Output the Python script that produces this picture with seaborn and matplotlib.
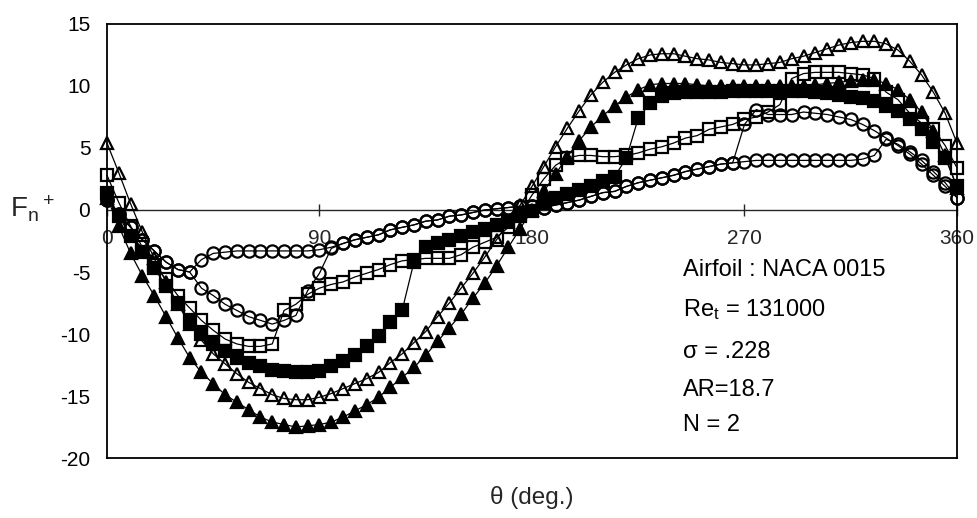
import numpy as np
import pandas as pd
import matplotlib
matplotlib.use("Agg")
import matplotlib.pyplot as plt
import seaborn as sns

# Azimuthal position of the blade, degrees
theta = np.arange(0, 361, 5)

# Normal force coefficient F_n+ for each run
circle_a = [0.8, -0.3, -1.4, -2.4, -3.3, -4.2, -4.8, -5.0, -4.0, -3.5,
            -3.4, -3.3, -3.3, -3.3, -3.3, -3.3, -3.3, -3.3, -3.2, -3.0,
            -2.7, -2.4, -2.2, -2.0, -1.6, -1.4, -1.2, -0.9, -0.8, -0.5,
            -0.4, -0.2, 0.0, 0.1, 0.2, 0.3, 0.3, 0.2, 0.4, 0.6,
            0.8, 1.1, 1.4, 1.5, 1.9, 2.2, 2.4, 2.6, 2.8, 3.1,
            3.3, 3.5, 3.7, 3.8, 3.9, 4.0, 4.0, 4.0, 4.0, 4.0,
            4.0, 4.0, 4.0, 4.0, 4.1, 4.4, 5.7, 5.3, 4.7, 4.0,
            3.1, 2.2, 1.0]
circle_b = [0.8, -0.3, -1.4, -2.4, -3.3, -4.2, -4.8, -5.0, -6.3, -6.9,
            -7.6, -8.1, -8.6, -8.9, -9.2, -8.9, -8.5, -6.5, -5.1, -3.1,
            -2.7, -2.4, -2.2, -2.0, -1.6, -1.4, -1.2, -0.9, -0.8, -0.5,
            -0.4, -0.2, 0.0, 0.1, 0.2, 0.3, 0.3, 0.2, 0.4, 0.6,
            0.8, 1.1, 1.4, 1.5, 1.9, 2.2, 2.4, 2.6, 2.8, 3.1,
            3.3, 3.5, 3.7, 3.8, 6.9, 8.1, 7.7, 7.7, 7.7, 7.9,
            7.8, 7.7, 7.5, 7.3, 6.9, 6.4, 5.8, 5.2, 4.5, 3.7,
            2.8, 1.9, 1.0]
square_open = [2.8, 0.6, -1.3, -3.0, -4.4, -5.6, -6.9, -7.9, -8.9, -9.7,
               -10.4, -10.8, -11.0, -11.0, -10.8, -8.1, -7.6, -6.8, -6.3, -6.0,
               -5.8, -5.4, -5.1, -4.8, -4.4, -4.1, -4.0, -3.9, -3.9, -3.9,
               -3.6, -3.0, -2.6, -2.2, -1.4, -0.3, 1.2, 2.5, 3.6, 4.2,
               4.4, 4.4, 4.3, 4.3, 4.4, 4.6, 4.9, 5.1, 5.4, 5.8,
               6.0, 6.5, 6.7, 6.9, 7.3, 7.5, 7.9, 8.5, 10.6, 11.0,
               11.1, 11.1, 11.1, 11.0, 10.9, 10.6, 9.5, 8.9, 7.8, 7.0,
               6.5, 5.2, 3.4]
square_filled = [1.4, -0.5, -2.1, -3.4, -4.7, -6.1, -7.5, -9.0, -10.0, -10.8,
                 -11.4, -11.9, -12.3, -12.6, -12.9, -13.0, -13.1, -13.1, -13.0, -12.6,
                 -12.2, -11.7, -11.0, -10.2, -9.0, -8.1, -4.2, -3.0, -2.7, -2.4,
                 -2.1, -1.8, -1.5, -1.2, -0.9, -0.5, -0.1, 0.6, 1.0, 1.3,
                 1.6, 1.9, 2.3, 2.7, 4.2, 7.4, 8.6, 9.2, 9.4, 9.5,
                 9.5, 9.5, 9.5, 9.6, 9.6, 9.6, 9.6, 9.6, 9.6, 9.6,
                 9.5, 9.4, 9.3, 9.1, 9.0, 8.8, 8.4, 8.0, 7.3, 6.5,
                 5.5, 4.2, 1.9]
triangle_open = [5.4, 3.0, 0.5, -1.8, -3.9, -5.8, -7.6, -9.2, -10.5, -11.6,
                 -12.4, -13.2, -13.9, -14.4, -14.9, -15.2, -15.3, -15.3, -15.1, -14.8,
                 -14.4, -14.0, -13.6, -13.1, -12.3, -11.6, -10.7, -9.8, -8.6, -7.5,
                 -6.3, -5.1, -3.8, -2.4, -1.0, 0.4, 1.9, 3.5, 5.1, 6.6,
                 8.0, 9.3, 10.3, 11.1, 11.7, 12.2, 12.5, 12.6, 12.6, 12.4,
                 12.2, 12.1, 11.9, 11.8, 11.7, 11.7, 11.8, 11.9, 12.2, 12.4,
                 12.7, 13.0, 13.3, 13.5, 13.6, 13.6, 13.4, 12.9, 12.0, 10.9,
                 9.5, 7.8, 5.4]
triangle_filled = [1.0, -1.3, -3.5, -5.3, -6.9, -8.6, -10.3, -11.9, -13.1, -14.0,
                   -14.9, -15.5, -16.1, -16.7, -17.1, -17.3, -17.5, -17.4, -17.3, -17.1,
                   -16.7, -16.2, -15.7, -15.1, -14.3, -13.5, -12.7, -11.7, -10.6, -9.5,
                   -8.4, -7.1, -5.9, -4.5, -3.0, -1.5, 0.0, 1.5, 2.9, 4.3,
                   5.6, 6.7, 7.6, 8.4, 9.1, 9.7, 10.1, 10.2, 10.2, 10.2,
                   10.1, 10.0, 10.0, 10.0, 10.0, 10.0, 10.0, 10.0, 10.0, 10.0,
                   10.1, 10.2, 10.3, 10.4, 10.5, 10.5, 10.2, 9.7, 8.9, 7.9,
                   6.4, 4.4, 1.8]

series_names = ["circle_a", "circle_b", "square_open", "square_filled",
                "triangle_open", "triangle_filled"]
series_values = [circle_a, circle_b, square_open, square_filled,
                 triangle_open, triangle_filled]

y_ticks = [-20, -15, -10, -5, 0, 5, 10, 15]
x_ticks = [0, 90, 180, 270, 360]
info_lines = ["Airfoil : NACA 0015", "Re$_t$ = 131000", "\u03c3 = .228",
              "AR=18.7", "N = 2"]

df = pd.concat(
    [pd.DataFrame({"theta": theta, "Fn": vals, "run": name})
     for name, vals in zip(series_names, series_values)],
    ignore_index=True,
)

sns.set_style("white")
plt.rcParams["font.family"] = ["Liberation Sans", "DejaVu Sans"]
plt.rcParams["mathtext.default"] = "regular"
plt.rcParams["axes.unicode_minus"] = False

styles = {
    "circle_a": dict(marker="o", markerfacecolor="none"),
    "circle_b": dict(marker="o", markerfacecolor="none"),
    "square_open": dict(marker="s", markerfacecolor="none"),
    "square_filled": dict(marker="s", markerfacecolor="black"),
    "triangle_open": dict(marker="^", markerfacecolor="none"),
    "triangle_filled": dict(marker="^", markerfacecolor="black"),
}

fig = plt.figure(figsize=(9.78, 5.18), dpi=100)
ax = fig.add_axes([0.1094, 0.1158, 0.8691, 0.8379])

for name in series_names:
    sns.lineplot(
        data=df[df["run"] == name], x="theta", y="Fn", ax=ax,
        color="black", linewidth=0.9, markersize=8.8,
        markeredgecolor="black", markeredgewidth=1.6,
        estimator=None, clip_on=False, **styles[name],
    )

ax.set_xlim(0, 360)
ax.set_ylim(-20, 15)
ax.set_xticks([])
ax.set_yticks(y_ticks)
ax.tick_params(axis="y", direction="inout", length=8, width=1,
               labelsize=15, pad=8, color="black", labelcolor="black")
for sp in ax.spines.values():
    sp.set_visible(True)
    sp.set_color("black")
    sp.set_linewidth(1.3)

# Angle axis drawn along F_n+ = 0
zero_frac = (0 - (-20)) / (15 - (-20))
sec = ax.secondary_xaxis(zero_frac)
sec.set_alignment("bottom")
sec.set_xticks(x_ticks)
sec.tick_params(axis="x", direction="inout", length=8, width=1,
                labelsize=15, pad=10)
sec.spines["bottom"].set_linewidth(1.0)

ax.set_xlabel("\u03b8 (deg.)", fontsize=17.5)
ax.xaxis.set_label_coords(0.5, -0.09)
ax.xaxis.label.set_va("center")

ax.set_ylabel("F$_n{}^+$", fontsize=20, rotation=0)
ax.yaxis.set_label_coords(-0.088, 0.575)
ax.yaxis.label.set_va("center")
ax.yaxis.label.set_ha("center")

line_y = [0.433, 0.341, 0.244, 0.157, 0.076]
for txt, yy in zip(info_lines, line_y):
    ax.text(0.6776, yy, txt, transform=ax.transAxes, fontsize=17,
            ha="left", va="center", color="black")

fig.savefig("out.png", dpi=100)
